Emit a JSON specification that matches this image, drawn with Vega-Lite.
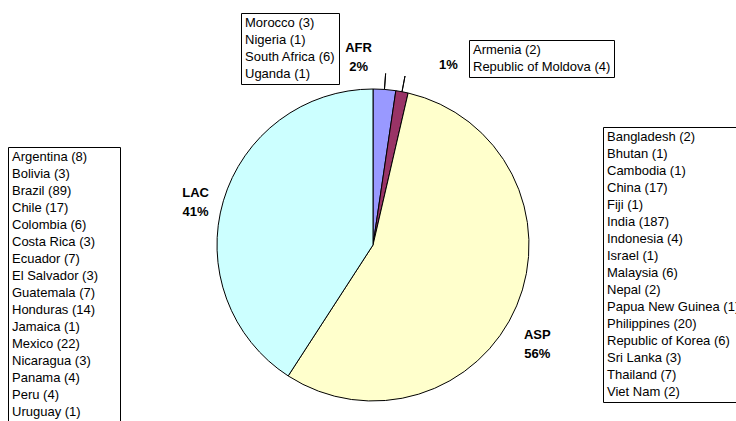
{
  "$schema": "https://vega.github.io/schema/vega-lite/v6.json",
  "width": 726,
  "height": 312,
  "autosize": {"type": "none"},
  "padding": {"left": 10, "top": 89, "right": 0, "bottom": 20},
  "background": "white",
  "config": {
    "view": {"stroke": null},
    "font": "Liberation Sans",
    "legend": {
      "orient": "none",
      "direction": "vertical",
      "columns": 1,
      "strokeColor": "#000",
      "fillColor": "#fff",
      "padding": 3,
      "symbolSize": 0.01,
      "symbolOpacity": 0,
      "symbolStrokeWidth": 0,
      "symbolType": "square",
      "labelOffset": -12,
      "labelFont": "Liberation Sans",
      "labelFontSize": 13,
      "labelColor": "#000",
      "labelLimit": 400,
      "rowPadding": 3
    }
  },
  "datasets": {
    "countries": [
      {"region": "AFR", "country": "Morocco", "count": 3},
      {"region": "AFR", "country": "Nigeria", "count": 1},
      {"region": "AFR", "country": "South Africa", "count": 6},
      {"region": "AFR", "country": "Uganda", "count": 1},
      {"region": "EEU", "country": "Armenia", "count": 2},
      {"region": "EEU", "country": "Republic of Moldova", "count": 4},
      {"region": "ASP", "country": "Bangladesh", "count": 2},
      {"region": "ASP", "country": "Bhutan", "count": 1},
      {"region": "ASP", "country": "Cambodia", "count": 1},
      {"region": "ASP", "country": "China", "count": 17},
      {"region": "ASP", "country": "Fiji", "count": 1},
      {"region": "ASP", "country": "India", "count": 187},
      {"region": "ASP", "country": "Indonesia", "count": 4},
      {"region": "ASP", "country": "Israel", "count": 1},
      {"region": "ASP", "country": "Malaysia", "count": 6},
      {"region": "ASP", "country": "Nepal", "count": 2},
      {"region": "ASP", "country": "Papua New Guinea", "count": 1},
      {"region": "ASP", "country": "Philippines", "count": 20},
      {"region": "ASP", "country": "Republic of Korea", "count": 6},
      {"region": "ASP", "country": "Sri Lanka", "count": 3},
      {"region": "ASP", "country": "Thailand", "count": 7},
      {"region": "ASP", "country": "Viet Nam", "count": 2},
      {"region": "LAC", "country": "Argentina", "count": 8},
      {"region": "LAC", "country": "Bolivia", "count": 3},
      {"region": "LAC", "country": "Brazil", "count": 89},
      {"region": "LAC", "country": "Chile", "count": 17},
      {"region": "LAC", "country": "Colombia", "count": 6},
      {"region": "LAC", "country": "Costa Rica", "count": 3},
      {"region": "LAC", "country": "Ecuador", "count": 7},
      {"region": "LAC", "country": "El Salvador", "count": 3},
      {"region": "LAC", "country": "Guatemala", "count": 7},
      {"region": "LAC", "country": "Honduras", "count": 14},
      {"region": "LAC", "country": "Jamaica", "count": 1},
      {"region": "LAC", "country": "Mexico", "count": 22},
      {"region": "LAC", "country": "Nicaragua", "count": 3},
      {"region": "LAC", "country": "Panama", "count": 4},
      {"region": "LAC", "country": "Peru", "count": 4},
      {"region": "LAC", "country": "Uruguay", "count": 1}
    ]
  },
  "data": {"name": "countries"},
  "resolve": {"scale": {"color": "independent"}, "legend": {"color": "independent"}},
  "layer": [
    {
      "transform": [
        {"aggregate": [{"op": "sum", "field": "count", "as": "total"}], "groupby": ["region"]},
        {"calculate": "indexof(['AFR','EEU','ASP','LAC'], datum.region)", "as": "ord"}
      ],
      "mark": {"type": "arc", "stroke": "#000", "strokeWidth": 1},
      "encoding": {
        "theta": {"field": "total", "type": "quantitative", "stack": true},
        "order": {"field": "ord", "type": "quantitative"},
        "color": {
          "field": "region",
          "type": "nominal",
          "scale": {"domain": ["AFR", "EEU", "ASP", "LAC"], "range": ["#9999FF", "#993366", "#FFFFCC", "#CCFFFF"]},
          "legend": null
        }
      }
    },
    {
      "transform": [
        {"aggregate": [{"op": "sum", "field": "count", "as": "total"}], "groupby": ["region"]},
        {"calculate": "indexof(['AFR','EEU','ASP','LAC'], datum.region)", "as": "ord"},
        {"stack": "total", "groupby": [], "sort": [{"field": "ord"}], "as": ["t0", "t1"]},
        {"joinaggregate": [{"op": "sum", "field": "total", "as": "all"}]},
        {"calculate": "(datum.t0 + datum.t1) / 2", "as": "mid"},
        {"calculate": "format(datum.total / datum.all, '.0%')", "as": "pct"},
        {"calculate": "[datum.region, datum.pct]", "as": "lbl"}
      ],
      "layer": [
        {
          "transform": [{"filter": "datum.region == 'AFR' || datum.region == 'EEU'"}],
          "mark": {"type": "arc", "innerRadius": 156, "outerRadius": 172, "stroke": "#000", "strokeWidth": 1, "fill": null},
          "encoding": {
            "theta": {"field": "mid", "type": "quantitative"},
            "theta2": {"field": "mid"}
          }
        },
        {
          "transform": [{"filter": "datum.region == 'LAC'"}],
          "mark": {"type": "text", "radius": 185, "fontWeight": "bold", "fontSize": 13, "font": "Liberation Sans", "lineHeight": 19, "align": "center", "baseline": "middle", "color": "#000"},
          "encoding": {"theta": {"field": "mid", "type": "quantitative"}, "text": {"field": "lbl"}}
        },
        {
          "transform": [{"filter": "datum.region == 'ASP'"}],
          "mark": {"type": "text", "radius": 186, "dx": -7, "dy": 17, "fontWeight": "bold", "fontSize": 13, "font": "Liberation Sans", "lineHeight": 19, "align": "center", "baseline": "middle", "color": "#000"},
          "encoding": {"theta": {"field": "mid", "type": "quantitative"}, "text": {"field": "lbl"}}
        },
        {
          "transform": [{"filter": "datum.region == 'AFR'"}],
          "mark": {"type": "text", "radius": 198, "dx": -29, "fontWeight": "bold", "fontSize": 13, "font": "Liberation Sans", "lineHeight": 19, "align": "center", "baseline": "middle", "color": "#000"},
          "encoding": {"theta": {"field": "mid", "type": "quantitative"}, "text": {"field": "lbl"}}
        },
        {
          "transform": [{"filter": "datum.region == 'EEU'"}],
          "mark": {"type": "text", "radius": 185, "dx": 41, "dy": 2, "fontWeight": "bold", "fontSize": 13, "font": "Liberation Sans", "align": "center", "baseline": "middle", "color": "#000"},
          "encoding": {"theta": {"field": "mid", "type": "quantitative"}, "text": {"field": "pct"}}
        }
      ]
    },
    {
      "transform": [
        {"calculate": "datum.country + ' (' + datum.count + ')'", "as": "label"}
      ],
      "resolve": {"scale": {"color": "independent"}, "legend": {"color": "independent"}},
      "layer": [
        {
          "transform": [{"filter": "datum.region == 'AFR'"}],
          "mark": {"type": "point", "opacity": 0, "size": 0},
          "encoding": {
            "color": {"field": "label", "type": "nominal", "sort": null, "scale": {"range": ["#000"]},
              "legend": {"title": null, "orient": "none", "legendX": 231, "legendY": -76}}
          }
        },
        {
          "transform": [{"filter": "datum.region == 'EEU'"}],
          "mark": {"type": "point", "opacity": 0, "size": 0},
          "encoding": {
            "color": {"field": "label", "type": "nominal", "sort": null, "scale": {"range": ["#000"]},
              "legend": {"title": null, "orient": "none", "legendX": 459, "legendY": -49}}
          }
        },
        {
          "transform": [{"filter": "datum.region == 'ASP'"}],
          "mark": {"type": "point", "opacity": 0, "size": 0},
          "encoding": {
            "color": {"field": "label", "type": "nominal", "sort": null, "scale": {"range": ["#000"]},
              "legend": {"title": null, "orient": "none", "legendX": 593, "legendY": 38}}
          }
        },
        {
          "transform": [{"filter": "datum.region == 'LAC'"}],
          "mark": {"type": "point", "opacity": 0, "size": 0},
          "encoding": {
            "color": {"field": "label", "type": "nominal", "sort": null, "scale": {"range": ["#000"]},
              "legend": {"title": null, "orient": "none", "legendX": -2, "legendY": 58, "symbolOffset": 99, "labelOffset": -111}}
          }
        }
      ]
    }
  ]
}
